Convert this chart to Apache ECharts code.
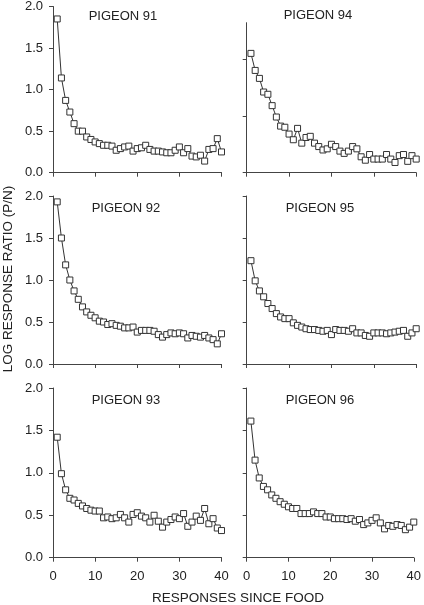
<!DOCTYPE html>
<html><head><meta charset="utf-8">
<script src="https://cdn.jsdelivr.net/npm/echarts@6/dist/echarts.min.js"></script>
<style>html,body{margin:0;padding:0;background:#fff}#c{width:424px;height:605px}</style>
</head><body><div id="c"></div>
<script>
const responses = [1,2,3,4,5,6,7,8,9,10,11,12,13,14,15,16,17,18,19,20,21,22,23,24,25,26,27,28,29,30,31,32,33,34,35,36,37,38,39,40];
const xTicks = [0,10,20,30,40];
const yTicks = [0.0,0.5,1.0,1.5,2.0];
const pigeonNames = ['PIGEON 91','PIGEON 94','PIGEON 92','PIGEON 95','PIGEON 93','PIGEON 96'];
const pigeon91 = [1.85,1.14,0.87,0.73,0.59,0.50,0.50,0.43,0.40,0.37,0.35,0.33,0.33,0.32,0.27,0.29,0.31,0.32,0.26,0.29,0.30,0.33,0.28,0.26,0.26,0.25,0.24,0.24,0.27,0.31,0.24,0.29,0.20,0.19,0.21,0.14,0.28,0.29,0.41,0.25];
const pigeon94 = [1.05,0.90,0.83,0.71,0.69,0.59,0.49,0.41,0.40,0.34,0.29,0.39,0.26,0.31,0.32,0.26,0.23,0.20,0.21,0.25,0.23,0.19,0.17,0.19,0.23,0.21,0.14,0.11,0.16,0.12,0.12,0.12,0.16,0.12,0.09,0.15,0.16,0.10,0.15,0.12];
const pigeon92 = [1.93,1.50,1.18,1.00,0.87,0.77,0.68,0.62,0.58,0.55,0.51,0.50,0.47,0.48,0.46,0.45,0.43,0.43,0.44,0.38,0.40,0.40,0.40,0.39,0.35,0.32,0.35,0.37,0.36,0.37,0.36,0.31,0.34,0.33,0.32,0.34,0.31,0.29,0.24,0.36];
const pigeon95 = [1.23,0.99,0.87,0.80,0.72,0.66,0.60,0.56,0.54,0.54,0.49,0.46,0.44,0.42,0.41,0.41,0.40,0.39,0.40,0.35,0.41,0.40,0.40,0.39,0.42,0.37,0.37,0.34,0.33,0.37,0.37,0.37,0.36,0.37,0.38,0.39,0.40,0.33,0.37,0.42];
const pigeon93 = [1.42,0.99,0.80,0.70,0.68,0.64,0.61,0.58,0.56,0.55,0.55,0.47,0.48,0.46,0.47,0.51,0.47,0.42,0.51,0.53,0.49,0.47,0.42,0.50,0.43,0.36,0.42,0.45,0.48,0.46,0.52,0.37,0.42,0.49,0.44,0.58,0.40,0.46,0.35,0.32];
const pigeon96 = [1.61,1.15,0.94,0.84,0.80,0.74,0.70,0.66,0.63,0.60,0.58,0.58,0.52,0.52,0.52,0.54,0.52,0.52,0.48,0.48,0.46,0.46,0.46,0.45,0.46,0.43,0.45,0.39,0.41,0.44,0.47,0.41,0.34,0.38,0.37,0.39,0.38,0.33,0.36,0.42];
const panelData = [pigeon91,pigeon94,pigeon92,pigeon95,pigeon93,pigeon96];
const yMaxes = [2.0,1.32,2.0,2.0,2.0,2.0];
const yTickSets = [yTicks,[0.0,0.5,1.0],yTicks,yTicks,yTicks,yTicks];

const cols = [{left:53,width:168.5},{left:246.7,width:169.5}];
const rows = [{top:5,height:167.7},{top:196,height:168},{top:388,height:169.7}];
const titlePos = [[123,16],[318,15],[126,208],[320,208],[126,400],[320,400]];
const ink = '#222';
const axisCol = '#444';
const fontFam = '"Liberation Sans", Arial, sans-serif';

const grids=[],xAxes=[],yAxes=[],series=[],graphics=[];
for(let p=0;p<6;p++){
  const r=Math.floor(p/2), c=p%2;
  let top=rows[r].top, height=rows[r].height;
  if(p===1){ top=22.7; height=150; }
  grids.push({left:cols[c].left,width:cols[c].width,top:top,height:height,containLabel:false});
  xAxes.push({type:'value',gridIndex:p,min:0,max:40,interval:10,
    axisLine:{show:true,lineStyle:{color:axisCol,width:1}},
    axisTick:{show:true,inside:false,length:4,lineStyle:{color:axisCol}},
    axisLabel:{show:r===2,color:ink,fontSize:13,fontFamily:fontFam,margin:12,customValues:xTicks},
    splitLine:{show:false}});
  yAxes.push({type:'value',gridIndex:p,min:0,max:yMaxes[p],interval:0.5,
    axisLine:{show:true,lineStyle:{color:axisCol,width:1}},
    axisTick:{show:true,inside:false,length:4,lineStyle:{color:axisCol},customValues:yTickSets[p]},
    axisLabel:{show:c===0,color:ink,fontSize:13,fontFamily:fontFam,margin:10,
      customValues:yTickSets[p],formatter:v=>v.toFixed(1)},
    splitLine:{show:false}});
  series.push({type:'line',xAxisIndex:p,yAxisIndex:p,
    data:responses.map((x,i)=>[x,panelData[p][i]]),
    symbol:'rect',symbolSize:6,showSymbol:true,
    lineStyle:{color:'#333',width:1},
    itemStyle:{color:'#fff',borderColor:'#333',borderWidth:1},
    emphasis:{disabled:true},animation:false});
  graphics.push({type:'text',x:titlePos[p][0],y:titlePos[p][1],
    style:{text:pigeonNames[p],fill:ink,font:'13px '+fontFam,align:'center',verticalAlign:'middle'}});
}
graphics.push({type:'text',x:8,y:279,rotation:Math.PI/2,
  style:{text:'LOG RESPONSE RATIO (P/N)',fill:ink,font:'13.5px '+fontFam,align:'center',verticalAlign:'middle'}});
graphics.push({type:'text',x:238,y:598,
  style:{text:'RESPONSES SINCE FOOD',fill:ink,font:'13.5px '+fontFam,align:'center',verticalAlign:'middle'}});

const chart = echarts.init(document.getElementById('c'),null,{renderer:'canvas'});
chart.setOption({animation:false,backgroundColor:'#fff',grid:grids,xAxis:xAxes,yAxis:yAxes,series:series,graphic:graphics});
</script></body></html>
